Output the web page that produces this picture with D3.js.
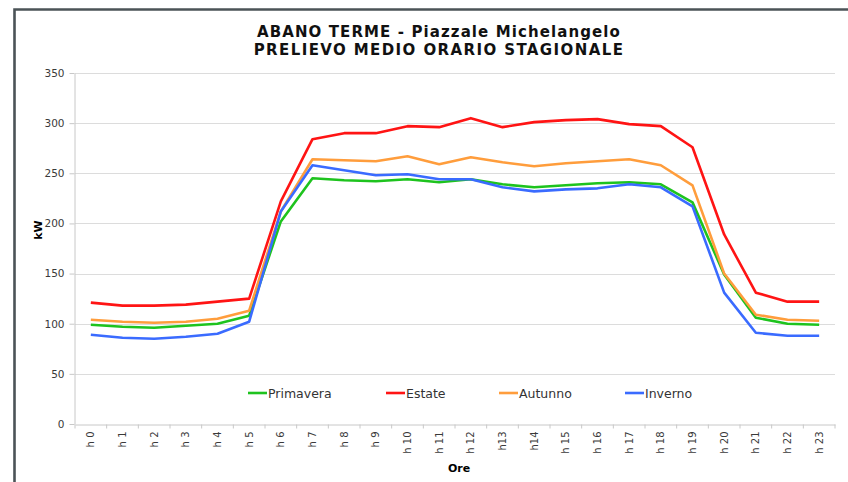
<!DOCTYPE html>
<html>
<head>
<meta charset="utf-8">
<script src="https://cdn.jsdelivr.net/npm/d3@7"></script>
<style>
  body { margin: 0; background: #fff; }
  svg { display: block; font-family: "DejaVu Sans", Verdana, sans-serif; }
</style>
</head>
<body>
<script>
// chart data (kW, hourly average by season)
const hours = ["h 0","h 1","h 2","h 3","h 4","h 5","h 6","h 7","h 8","h 9","h 10","h 11",
  "h 12","h13","h14","h 15","h 16","h 17","h 18","h 19","h 20","h 21","h 22","h 23"];
const primavera = [99,97,96,98,100,108,202,245,243,242,244,241,244,239,236,238,240,241,239,221,149,106,100,99];
const estate = [121,118,118,119,122,125,222,284,290,290,297,296,305,296,301,303,304,299,297,276,189,131,122,122];
const autunno = [104,102,101,102,105,113,212,264,263,262,267,259,266,261,257,260,262,264,258,238,150,109,104,103];
const inverno = [89,86,85,87,90,102,212,258,253,248,249,244,244,236,232,234,235,239,236,217,131,91,88,88];
const seriesNames = ["Primavera", "Estate", "Autunno", "Inverno"];
const yTicks = [0, 50, 100, 150, 200, 250, 300, 350];

const width = 848;
const height = 482;
const colors = ["#1ec31e", "#ff1414", "#ff9d3c", "#3a6bff"];
const series = [primavera, estate, autunno, inverno];

const svg = d3.select("body").append("svg")
  .attr("width", width)
  .attr("height", height);

// frame (top + left edge only, like the cropped screenshot)
svg.append("path")
  .attr("d", "M14.5,482 V9.5 H848")
  .attr("fill", "none")
  .attr("stroke", "#4b5357")
  .attr("stroke-width", 2.6);

// scales
const xScale = d3.scaleBand().domain(hours).range([75, 835]);
const yScale = d3.scaleLinear().domain([0, 350]).range([424, 73]);

// gridlines
svg.append("g")
  .selectAll("line")
  .data(yTicks.filter(d => d > 0))
  .enter()
  .append("line")
  .attr("x1", 75)
  .attr("x2", 835)
  .attr("y1", d => Math.round(yScale(d)) + 0.5)
  .attr("y2", d => Math.round(yScale(d)) + 0.5)
  .attr("stroke", "#dcdcdc")
  .attr("stroke-width", 1.2);

// y axis
const yAxisG = svg.append("g")
  .attr("transform", "translate(74.5,0)")
  .call(d3.axisLeft(yScale).tickValues(yTicks).tickSize(5).tickPadding(5).tickSizeOuter(0));
yAxisG.select(".domain").attr("stroke", "#c8c8c8");
yAxisG.selectAll(".tick line").attr("stroke", "#c8c8c8");
yAxisG.selectAll(".tick text")
  .attr("font-size", "10.5px")
  .attr("font-family", "DejaVu Sans, sans-serif")
  .attr("fill", "#3a3a3a");

// x axis
const xAxisG = svg.append("g")
  .attr("transform", "translate(0,424.5)")
  .call(d3.axisBottom(xScale).tickSize(0).tickSizeOuter(0));
xAxisG.select(".domain").attr("stroke", "#c8c8c8");
xAxisG.selectAll(".tick line").remove();
// ticks at band edges
xAxisG.selectAll(".edge")
  .data(d3.range(hours.length + 1))
  .enter()
  .append("line")
  .attr("class", "edge")
  .attr("x1", i => 75 + i * xScale.step())
  .attr("x2", i => 75 + i * xScale.step())
  .attr("y1", 0)
  .attr("y2", 4)
  .attr("stroke", "#c8c8c8");
xAxisG.selectAll(".tick text")
  .attr("font-size", "10px")
  .attr("font-family", "DejaVu Sans, sans-serif")
  .attr("fill", "#3a3a3a")
  .attr("text-anchor", "end")
  .attr("transform", "translate(0,7) rotate(-90)")
  .attr("x", 0)
  .attr("y", 0)
  .attr("dy", "0.35em");

// lines
const line = d3.line()
  .x((d, i) => xScale(hours[i]) + xScale.bandwidth() / 2)
  .y(d => yScale(d));

svg.append("g")
  .selectAll("path")
  .data(series)
  .enter()
  .append("path")
  .attr("d", line)
  .attr("fill", "none")
  .attr("stroke", (d, i) => colors[i])
  .attr("stroke-width", 2.6)
  .attr("stroke-linejoin", "round");

// axis titles
svg.append("text")
  .text("Ore")
  .attr("x", 459)
  .attr("y", 472)
  .attr("text-anchor", "middle")
  .attr("font-size", "11px")
  .attr("font-weight", "bold");
svg.append("text")
  .text("kW")
  .attr("transform", "translate(42,230) rotate(-90)")
  .attr("text-anchor", "middle")
  .attr("font-size", "11px")
  .attr("font-weight", "bold");

// title
const titleLines = ["ABANO TERME - Piazzale Michelangelo", "PRELIEVO MEDIO ORARIO STAGIONALE"];
svg.append("g")
  .selectAll("text")
  .data(titleLines)
  .enter()
  .append("text")
  .text(d => d)
  .attr("x", 439)
  .attr("y", (d, i) => 37 + i * 17.5)
  .attr("text-anchor", "middle")
  .attr("font-size", "15px")
  .attr("font-weight", "bold")
  .attr("letter-spacing", (d, i) => i ? "1.4px" : "1.1px")
  .attr("fill", "#111");

// legend
const legendX = [248, 386, 499, 625];
const legend = svg.append("g")
  .selectAll("g")
  .data(seriesNames)
  .enter()
  .append("g")
  .attr("transform", (d, i) => `translate(${legendX[i]},393)`);
legend.append("line")
  .attr("x1", 0)
  .attr("x2", 19)
  .attr("stroke", (d, i) => colors[i])
  .attr("stroke-width", 2.6);
legend.append("text")
  .text(d => d)
  .attr("x", 20)
  .attr("dy", "0.36em")
  .attr("font-size", "12.5px")
  .attr("fill", "#333");
</script>
</body>
</html>
